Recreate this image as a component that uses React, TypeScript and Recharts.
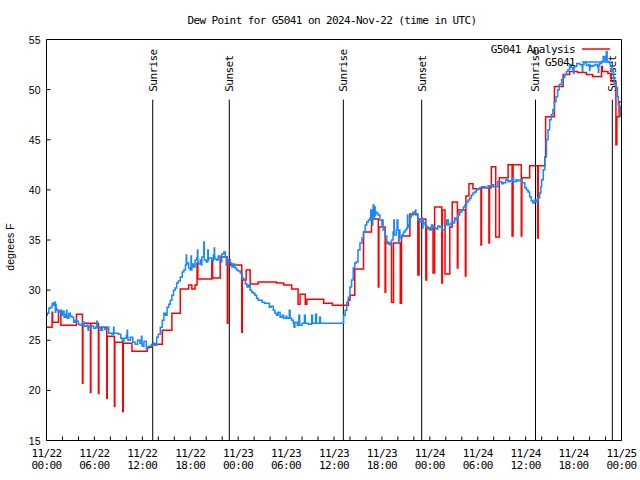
import React from 'react';
import { LineChart, Line, XAxis, YAxis, ReferenceLine } from 'recharts';

const TITLE = 'Dew Point for G5041 on 2024-Nov-22 (time in UTC)';
const Y_LABEL = 'degrees F';
const ANALYSIS_NAME = 'G5041 Analysis';
const OBS_NAME = 'G5041';
const ANALYSIS_COLOR = '#ff0000';
const OBS_COLOR = '#1588ff';

// hours since 11/22 00:00 UTC
const xTicks = [0, 2, 4, 6, 8, 10, 12, 14, 16, 18, 20, 22, 24, 26, 28, 30, 32, 34, 36, 38, 40, 42, 44, 46, 48, 50, 52, 54, 56, 58, 60, 62, 64, 66, 68, 70, 72];
const majorTickHours = [0, 6, 12, 18, 24, 30, 36, 42, 48, 54, 60, 66, 72];
const majorTickDates = ['11/22', '11/22', '11/22', '11/22', '11/23', '11/23', '11/23', '11/23', '11/24', '11/24', '11/24', '11/24', '11/25'];
const majorTickTimes = ['00:00', '06:00', '12:00', '18:00', '00:00', '06:00', '12:00', '18:00', '00:00', '06:00', '12:00', '18:00', '00:00'];
const yTicks = [15, 20, 25, 30, 35, 40, 45, 50, 55];

const sunHours = [13.3, 22.89, 37.17, 46.98, 61.23, 70.85];
const sunLabels = ['Sunrise', 'Sunset', 'Sunrise', 'Sunset', 'Sunrise', 'Sunset'];
const sunLineTop = 49;

// [hour, dew point F]
const analysisSeries: [number, number][] = [
  [0, 26.3], [0.7, 27.8], [0.76, 26.8], [1.5, 27.9], [1.8, 26.5], [3.75, 27.6],
  [4.5, 20.7], [4.56, 26.7], [5.5, 19.8], [5.56, 26.7], [6.5, 19.7], [6.56, 26.3],
  [7.55, 19.2], [7.61, 25.4], [8.5, 18.4], [8.56, 24.8], [9.55, 17.9], [9.61, 24.7],
  [10.7, 23.9], [12.6, 24.3], [13.2, 24.6], [14.5, 26.0], [15.7, 27.7], [16.75, 30.1],
  [17.8, 30.5], [18.2, 30.1], [18.6, 30.5], [18.85, 32.7], [18.95, 31.1], [20.7, 33.0],
  [20.8, 31.2], [21.75, 33.3], [22.65, 26.7], [22.72, 33.0], [23.0, 32.5], [24.45, 25.8],
  [24.52, 31.0], [25.0, 32.0], [25.5, 30.6], [26.5, 30.8], [28.8, 30.7], [29.7, 30.5],
  [30.7, 30.1], [31.5, 28.6], [31.75, 29.6], [32.4, 28.6], [32.6, 29.1], [34.7, 28.7],
  [35.8, 28.5], [37.8, 29.0], [38.0, 29.5], [38.6, 32.1], [39.7, 35.8], [40.7, 37.1],
  [41.55, 30.3], [41.62, 36.3], [42.4, 29.8], [42.47, 34.7], [43.2, 28.8], [43.45, 34.7],
  [44.3, 28.7], [44.45, 35.4], [45.5, 37.6], [46.5, 31.5], [46.65, 37.1], [47.5, 31.0],
  [47.6, 36.2], [48.4, 31.7], [48.6, 38.3], [49.5, 30.7], [49.57, 38.0], [49.9, 31.6],
  [50.5, 36.3], [50.8, 38.8], [51.45, 32.2], [51.52, 38.0], [52.45, 31.4], [52.52, 39.4],
  [52.9, 40.6], [53.4, 40.1], [54.4, 34.5], [54.47, 40.2], [55.4, 34.7], [55.47, 40.2],
  [55.7, 42.3], [56.25, 35.3], [56.7, 41.2], [57.8, 42.5], [58.3, 35.4], [58.42, 42.5],
  [59.45, 35.4], [59.52, 41.2], [60.5, 42.4], [61.5, 35.2], [61.57, 42.4], [62.4, 43.3],
  [62.5, 47.3], [63.6, 50.3], [64.7, 51.5], [65.5, 51.8], [66.5, 51.7], [67.6, 51.5],
  [68.4, 51.3], [69.5, 52.3], [69.6, 51.8], [70.3, 51.6], [70.7, 50.8], [71.3, 44.5],
  [71.42, 47.3], [71.7, 48.8], [72, 48.8],
];

const observedSeries: [number, number][] = [
  [0, 27.5], [0.1, 27.7], [0.3, 28.2], [0.5, 28.3], [0.7, 28.7], [0.9, 28.5], [1.0, 28.8],
  [1.1, 27.8], [1.15, 28.6],
  [1.2, 28.2], [1.3, 28.0], [1.5, 27.8], [1.7, 28.0], [1.9, 27.5], [2.0, 27.9], [2.2, 27.3],
  [2.4, 27.6], [2.5, 28.0], [2.55, 27.4], [2.6, 27.2], [2.8, 27.7], [3.0, 27.4], [3.2, 27.3], [3.4, 26.8], [3.6, 27.0],
  [3.8, 26.9], [4.0, 26.6], [4.2, 26.5], [4.5, 26.8], [4.7, 26.4], [5.0, 26.5], [5.2, 26.0], [5.25, 26.4], [5.3, 26.3],
  [5.6, 26.4], [5.9, 26.2], [6.2, 26.4], [6.3, 26.9], [6.35, 26.3], [6.5, 26.3], [6.8, 26.0], [7.0, 26.3], [7.3, 26.1],
  [7.6, 26.3], [7.8, 25.7], [8.2, 25.6], [8.4, 26.3], [8.45, 25.7], [8.6, 25.7], [9.0, 25.6], [9.3, 25.2], [9.5, 24.9],
  [9.7, 25.2], [10.0, 25.5], [10.1, 26.0], [10.15, 25.3], [10.2, 25.0], [10.5, 25.3], [10.8, 24.8], [11.1, 24.6], [11.4, 25.0],
  [11.7, 24.7], [11.9, 25.4], [11.95, 24.6], [12.0, 24.4], [12.2, 24.9], [12.5, 24.2], [12.8, 24.4], [13.1, 24.5], [13.4, 24.7],
  [13.6, 24.5], [13.8, 25.3], [14.0, 25.6], [14.25, 26.3], [14.5, 27.0], [14.7, 27.7], [14.9, 27.5],
  [15.1, 28.3], [15.3, 28.6], [15.5, 29.0], [15.7, 29.5], [15.9, 30.0], [16.1, 30.2], [16.3, 30.7],
  [16.5, 30.9], [16.75, 31.3], [17.0, 31.8], [17.2, 32.0], [17.4, 32.5], [17.5, 33.5], [17.55, 32.6], [17.6, 32.7], [17.8, 32.2],
  [18.0, 32.0], [18.1, 33.4], [18.15, 32.0], [18.2, 32.6], [18.4, 32.3], [18.6, 33.0], [18.8, 33.2], [18.9, 34.0], [18.95, 32.8], [19.0, 32.6], [19.25, 33.0],
  [19.4, 32.5], [19.45, 33.3], [19.5, 33.3], [19.7, 34.8], [19.75, 33.0], [20.0, 32.8], [20.2, 34.0], [20.25, 33.0], [20.3, 33.2], [20.5, 33.2], [20.7, 32.9],
  [20.9, 33.5], [21.0, 34.2], [21.05, 33.3], [21.1, 33.1], [21.3, 33.0], [21.5, 33.4], [21.75, 33.2], [21.9, 32.8], [21.95, 33.6], [22.0, 33.6], [22.2, 33.8],
  [22.4, 33.3], [22.5, 32.5], [22.55, 33.3], [22.6, 33.0], [22.8, 32.9], [23.0, 32.7], [23.2, 32.3], [23.4, 32.6], [23.6, 32.2],
  [23.8, 32.0], [24.0, 31.9], [24.25, 31.7], [24.5, 31.2], [24.7, 31.0], [24.9, 30.6], [25.1, 30.3],
  [25.3, 30.5], [25.5, 30.0], [25.7, 29.8], [25.9, 29.7], [26.1, 29.5], [26.3, 29.2], [26.5, 29.0],
  [26.75, 29.0], [27.0, 28.8], [27.3, 28.7], [27.6, 28.7], [27.9, 28.3], [28.1, 28.4], [28.4, 28.0],
  [28.6, 27.7], [28.8, 27.5], [29.0, 27.8], [29.25, 27.3], [29.5, 27.5], [29.7, 27.2], [30.0, 27.4],
  [30.1, 27.2], [30.4, 28.0], [30.5, 27.2], [30.7, 27.0], [30.9, 26.7], [31.0, 26.3], [31.1, 26.8],
  [31.4, 26.5], [31.6, 27.5], [31.7, 26.5], [32.0, 26.7], [32.3, 27.5], [32.4, 26.7], [32.8, 26.6],
  [33.2, 27.5], [33.3, 26.7], [33.7, 27.6], [33.8, 26.7], [34.2, 27.3], [34.3, 26.7], [35.0, 26.7],
  [36.0, 26.7], [37.0, 26.7], [37.2, 27.5], [37.4, 28.0], [37.6, 28.8], [37.8, 29.3], [38.0, 30.3],
  [38.2, 31.0], [38.4, 32.2], [38.6, 32.7], [38.8, 32.8], [39.0, 34.0], [39.25, 34.7], [39.5, 35.2],
  [39.7, 35.8], [39.9, 36.5], [40.1, 36.8], [40.3, 37.0], [40.5, 37.2], [40.6, 38.0], [40.7, 37.0],
  [40.8, 36.5], [40.85, 38.0],
  [40.9, 38.5], [41.0, 37.3], [41.1, 38.3], [41.15, 37.5], [41.2, 37.8], [41.3, 37.7], [41.5, 37.5], [41.75, 37.0], [42.0, 36.5],
  [42.1, 37.0], [42.15, 36.0],
  [42.2, 36.0], [42.4, 35.4], [42.6, 34.8], [42.8, 34.6], [43.0, 34.5], [43.2, 35.0], [43.4, 35.8],
  [43.5, 37.0], [43.55, 35.5],
  [43.6, 35.5], [43.8, 36.0], [43.9, 37.0], [44.0, 36.0], [44.1, 34.8], [44.15, 36.0], [44.25, 35.2], [44.5, 35.5], [44.7, 35.8],
  [44.9, 36.0], [45.1, 36.2], [45.2, 37.5], [45.25, 36.3], [45.3, 36.5], [45.5, 37.3], [45.7, 37.5], [45.9, 37.8], [46.1, 37.6],
  [46.2, 38.0], [46.25, 37.5],
  [46.3, 37.5], [46.5, 37.0], [46.75, 36.8], [47.0, 37.2], [47.1, 36.2], [47.15, 37.0], [47.2, 36.7], [47.4, 36.5], [47.6, 36.3],
  [47.8, 36.1], [48.0, 36.0], [48.2, 36.5], [48.4, 36.3], [48.6, 36.2], [48.8, 36.1], [49.0, 36.4],
  [49.25, 36.3], [49.5, 36.0], [49.7, 36.0], [49.9, 36.5], [50.1, 37.0], [50.3, 36.5], [50.5, 36.6],
  [50.7, 36.8], [50.9, 36.7], [51.1, 37.2], [51.3, 37.0], [51.5, 37.5], [51.75, 37.8], [52.0, 38.0],
  [52.2, 38.3], [52.4, 38.5], [52.6, 38.8], [52.8, 39.0], [53.0, 39.2], [53.2, 39.5], [53.4, 39.7],
  [53.6, 39.8], [53.8, 40.0], [54.0, 40.1], [54.25, 40.2], [54.5, 40.3], [54.7, 40.3], [55.0, 40.2],
  [55.3, 40.4], [55.5, 40.3], [55.8, 40.5], [56.0, 40.3], [56.3, 40.3], [56.5, 40.8], [56.75, 40.8],
  [57.0, 40.6], [57.2, 40.7], [57.5, 41.0], [57.8, 40.8], [58.0, 40.9], [58.3, 41.2], [58.5, 40.8],
  [58.8, 41.0], [59.0, 40.9], [59.3, 41.0], [59.5, 40.7], [59.7, 40.7], [59.9, 40.2], [60.1, 40.0],
  [60.3, 39.8], [60.5, 39.3], [60.7, 38.9], [60.9, 38.7], [61.1, 39.0], [61.3, 38.8], [61.5, 39.2],
  [61.75, 39.7], [61.9, 40.3], [62.0, 41.0], [62.2, 42.0], [62.4, 43.3], [62.6, 45.0], [62.8, 46.0],
  [63.0, 47.0], [63.2, 47.5], [63.4, 48.0], [63.6, 48.8], [63.8, 49.3], [64.0, 50.0], [64.2, 50.5],
  [64.5, 51.0], [64.7, 51.2], [64.9, 51.5], [65.1, 51.8], [65.3, 52.0], [65.5, 52.5], [65.7, 52.2],
  [65.9, 52.0], [66.0, 51.6], [66.05, 52.2], [66.1, 52.3], [66.4, 52.6], [66.75, 52.5], [67.0, 52.4], [67.1, 51.8], [67.15, 52.5], [67.3, 52.7], [67.6, 52.4],
  [67.9, 52.5], [68.0, 51.9], [68.05, 52.4], [68.2, 52.3], [68.4, 52.4], [68.7, 52.5], [69.0, 52.3], [69.1, 51.7], [69.15, 52.4], [69.25, 52.6], [69.5, 52.8],
  [69.7, 53.3], [69.9, 52.9], [70.1, 53.8], [70.2, 52.8], [70.4, 52.7], [70.6, 52.3], [70.8, 51.8],
  [71.0, 51.2], [71.1, 50.7], [71.3, 50.2], [71.5, 49.3], [71.6, 48.5], [71.75, 48.3], [71.9, 47.3],
  [72.0, 48.5],
];

const byHour = (a: [number, number], b: [number, number]) => a[0] - b[0];
const analysisData = [...analysisSeries].sort(byHour).map(([h, v]) => ({ h, v }));
const observedData = [...observedSeries].sort(byHour).map(([h, v]) => ({ h, v }));

const MONO = "'DejaVu Sans Mono', monospace";
const SANS = "'Liberation Sans', Arial, sans-serif";

const BottomTick = (props: any) => {
  const { x, y, payload } = props;
  const i = majorTickHours.indexOf(payload.value);
  return (
    <g>
      <line x1={x} x2={x} y1={y} y2={y - 4} stroke="#000" strokeWidth={1} />
      {i >= 0 && (
        <text x={x} y={y + 16.5} textAnchor="middle" fontFamily={MONO} fontSize={11} letterSpacing={-0.6} fill="#000">
          <tspan x={x}>{majorTickDates[i]}</tspan>
          <tspan x={x} dy={12}>{majorTickTimes[i]}</tspan>
        </text>
      )}
    </g>
  );
};

const TopTick = (props: any) => {
  const { x, y } = props;
  return <line x1={x} x2={x} y1={y} y2={y + 4} stroke="#000" strokeWidth={1} />;
};

const LeftTick = (props: any) => {
  const { x, y, payload } = props;
  return (
    <g>
      <line x1={x} x2={x + 4} y1={y} y2={y} stroke="#000" strokeWidth={1} />
      <text x={x - 6} y={y + 4} textAnchor="end" fontFamily={SANS} fontSize={10.5} fill="#000">
        {payload.value}
      </text>
    </g>
  );
};

const RightTick = (props: any) => {
  const { x, y } = props;
  return <line x1={x} x2={x - 4} y1={y} y2={y} stroke="#000" strokeWidth={1} />;
};

const sunLabel = (text: string) => (props: any) => {
  const vb = props.viewBox || {};
  const x = vb.x + 4;
  const y = vb.y - 8;
  return (
    <text x={x} y={y} transform={`rotate(-90, ${x}, ${y})`} fontFamily={MONO} fontSize={11} letterSpacing={-0.6} fill="#000">
      {text}
    </text>
  );
};

export default function App() {
  return (
    <div style={{ position: 'absolute', left: 0, top: 0, width: 640, height: 480, background: '#fff' }}>
      <LineChart
        width={640}
        height={480}
        margin={{ top: 38.5, right: 17.5, bottom: 0, left: 0.5 }}
      >
        <XAxis
          dataKey="h"
          type="number"
          domain={[0, 72]}
          ticks={xTicks}
          interval={0}
          height={39.5}
          tickSize={0}
          tickMargin={0}
          tick={BottomTick}
          tickLine={false}
          axisLine={{ stroke: '#000', strokeWidth: 1 }}
          allowDataOverflow
        />
        <XAxis
          xAxisId="top"
          orientation="top"
          dataKey="h"
          type="number"
          domain={[0, 72]}
          ticks={xTicks}
          interval={0}
          height={1}
          tickSize={0}
          tickMargin={0}
          tick={TopTick}
          tickLine={false}
          axisLine={{ stroke: '#000', strokeWidth: 1 }}
        />
        <YAxis
          type="number"
          domain={[15, 55]}
          ticks={yTicks}
          interval={0}
          width={46}
          tickSize={0}
          tickMargin={0}
          tick={LeftTick}
          tickLine={false}
          axisLine={{ stroke: '#000', strokeWidth: 1 }}
          allowDataOverflow
        />
        <YAxis
          yAxisId="right"
          orientation="right"
          type="number"
          domain={[15, 55]}
          ticks={yTicks}
          interval={0}
          width={1}
          tickSize={0}
          tickMargin={0}
          tick={RightTick}
          tickLine={false}
          axisLine={{ stroke: '#000', strokeWidth: 1 }}
        />
        {sunHours.map((h, i) => (
          <ReferenceLine
            key={`sun-${i}`}
            segment={[{ x: h, y: sunLineTop }, { x: h, y: 15 }]}
            stroke="#000"
            strokeWidth={1}
            label={sunLabel(sunLabels[i])}
          />
        ))}
        <Line
          data={analysisData}
          dataKey="v"
          type="stepAfter"
          stroke={ANALYSIS_COLOR}
          strokeWidth={1.5}
          dot={false}
          isAnimationActive={false}
        />
        <Line
          data={observedData}
          dataKey="v"
          type="stepAfter"
          stroke={OBS_COLOR}
          strokeWidth={1.5}
          dot={false}
          isAnimationActive={false}
        />
      </LineChart>
      <svg
        width={640}
        height={480}
        style={{ position: 'absolute', left: 0, top: 0, pointerEvents: 'none' }}
      >
        <text x={332} y={24} textAnchor="middle" fontFamily={MONO} fontSize={11} letterSpacing={-0.6} fill="#000">
          {TITLE}
        </text>
        <text x={14} y={247} transform="rotate(-90, 14, 247)" textAnchor="middle" fontFamily={SANS} fontSize={10.5} fill="#000">
          {Y_LABEL}
        </text>
        <text x={575} y={53} textAnchor="end" fontFamily={MONO} fontSize={11} letterSpacing={-0.6} fill="#000">
          {ANALYSIS_NAME}
        </text>
        <line x1={582} x2={610} y1={49} y2={49} stroke={ANALYSIS_COLOR} strokeWidth={1.5} />
        <text x={575} y={66} textAnchor="end" fontFamily={MONO} fontSize={11} letterSpacing={-0.6} fill="#000">
          {OBS_NAME}
        </text>
        <line x1={582} x2={610} y1={62} y2={62} stroke={OBS_COLOR} strokeWidth={1.5} />
      </svg>
    </div>
  );
}
